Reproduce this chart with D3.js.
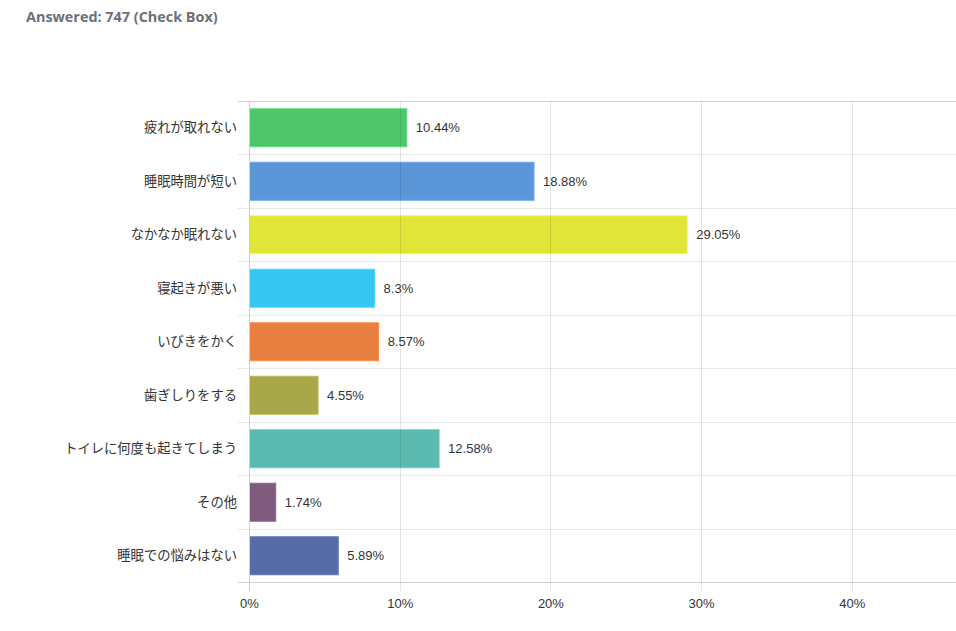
<!DOCTYPE html>
<html><head><meta charset="utf-8">
<script src="https://cdn.jsdelivr.net/npm/d3@7"></script>
<style>body{margin:0;background:#fff;} svg{display:block;}</style>
</head><body>
<svg id="c" width="956" height="631"></svg>
<script>
const title = "Answered: 747 (Check Box)";
const categories = ["疲れが取れない","睡眠時間が短い","なかなか眠れない","寝起きが悪い","いびきをかく","歯ぎしりをする","トイレに何度も起きてしまう","その他","睡眠での悩みはない"];
const values = [10.44, 18.88, 29.05, 8.3, 8.57, 4.55, 12.58, 1.74, 5.89];
const labels = ["10.44%","18.88%","29.05%","8.3%","8.57%","4.55%","12.58%","1.74%","5.89%"];
const colors = ["#50c66a","#5b96d9","#e1e537","#37c6f1","#e77f41","#a8a84b","#5bbaaf","#7f5b7e","#566ca6"];
const xTicks = [0,10,20,30,40];

(function(){
const svg = d3.select("#c");
const pLeft = 249.5, pTop = 101, pBottom = 582.5;
const x = d3.scaleLinear().domain([0,40]).range([pLeft, 852.3]);
const y = d3.scaleBand().domain(categories).range([pTop, pBottom]).paddingInner(0.29).paddingOuter(0.145);

svg.append("text").attr("x",26).attr("y",21.5).text(title)
  .attr("font-family","'Open Sans', 'DejaVu Sans', sans-serif").attr("font-weight","bold")
  .attr("font-size",14.4).attr("fill","#6b7079");

const step = (pBottom - pTop) / categories.length;
const hLines = d3.range(categories.length + 1).map(i => pTop + i * step);
svg.append("g").selectAll("line").data(hLines).join("line")
  .attr("x1", 238).attr("x2", 956).attr("y1", d => d).attr("y2", d => d)
  .attr("stroke", (d,i) => (i===0||i===categories.length) ? "#cfcfcf" : "#e8e8e8").attr("stroke-width",1)
  .attr("shape-rendering","crispEdges");

svg.append("g").selectAll("rect").data(values).join("rect")
  .attr("x", x(0)).attr("y", (d,i) => y(categories[i]))
  .attr("width", d => x(d) - x(0)).attr("height", y.bandwidth())
  .attr("fill", (d,i) => colors[i])
  .attr("stroke", (d,i) => d3.color(colors[i]).brighter(0.3)).attr("stroke-width",1);

svg.append("g").selectAll("line").data(xTicks).join("line")
  .attr("x1", d => x(d)).attr("x2", d => x(d)).attr("y1", pTop).attr("y2", pBottom + 8)
  .attr("stroke", d => d===0 ? "#cfcfcf" : "#000").attr("stroke-opacity", d => d===0 ? 1 : 0.1)
  .attr("shape-rendering","crispEdges");

svg.append("g").selectAll("text").data(xTicks).join("text")
  .attr("x", d => x(d)).attr("y", 608).attr("text-anchor","middle")
  .attr("font-family","'Liberation Sans', Arial, sans-serif").attr("font-size",13).attr("fill","#333")
  .text(d => d + "%");

svg.append("g").selectAll("text").data(categories).join("text")
  .attr("x", 237).attr("y", d => y(d) + y.bandwidth()/2).attr("dy","0.35em")
  .attr("text-anchor","end")
  .attr("font-family","'Noto Sans CJK JP', sans-serif").attr("font-size",13.3).attr("fill","#333")
  .text(d => d);

svg.append("g").selectAll("text").data(values).join("text")
  .attr("x", d => x(d) + 9).attr("y", (d,i) => y(categories[i]) + y.bandwidth()/2).attr("dy","0.35em")
  .attr("font-family","'Liberation Sans', Arial, sans-serif").attr("font-size",13).attr("fill","#333")
  .text((d,i) => labels[i]);
})();
</script>
</body></html>
